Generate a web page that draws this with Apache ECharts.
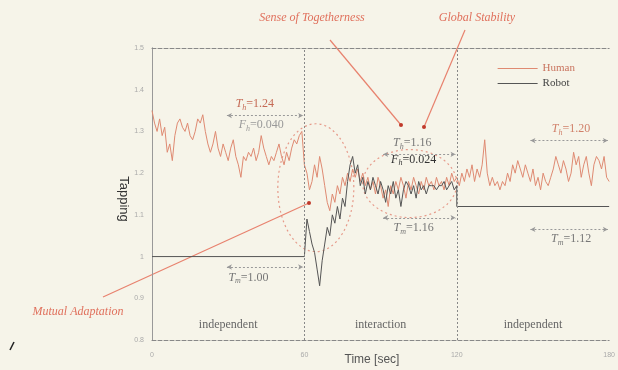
<!DOCTYPE html>
<html><head><meta charset="utf-8">
<script src="https://cdn.jsdelivr.net/npm/echarts@6/dist/echarts.min.js"></script>
<style>html,body{margin:0;padding:0;background:#f6f4e9;}#c{width:618px;height:370px;}</style>
</head><body><div id="c"></div>
<script>
// Human tapping interval, one value per second, t = 0..180
const humanValues = [
1.35,1.32,1.30,1.33,1.29,1.31,1.25,1.27,1.23,1.29,1.32,1.33,1.31,1.30,1.32,1.29,1.28,1.30,1.33,1.32,
1.34,1.30,1.27,1.25,1.27,1.30,1.26,1.24,1.27,1.25,1.23,1.26,1.28,1.24,1.22,1.19,1.24,1.23,1.25,1.24,
1.26,1.23,1.25,1.29,1.26,1.24,1.22,1.24,1.23,1.25,1.27,1.24,1.22,1.25,1.23,1.26,1.28,1.27,1.29,1.30,
1.22,1.20,1.16,1.18,1.22,1.19,1.24,1.21,1.17,1.13,1.11,1.15,1.13,1.17,1.15,1.19,1.17,1.20,1.18,1.21,
1.19,1.21,1.18,1.20,1.17,1.19,1.16,1.18,1.15,1.19,1.17,1.14,1.16,1.12,1.17,1.15,1.18,1.16,1.19,1.17,
1.14,1.18,1.16,1.19,1.17,1.15,1.18,1.16,1.19,1.17,1.18,1.16,1.19,1.17,1.18,1.16,1.19,1.17,1.20,1.18,
1.19,1.17,1.20,1.18,1.21,1.19,1.22,1.18,1.21,1.19,1.22,1.28,1.20,1.17,1.19,1.17,1.18,1.16,1.18,1.17,
1.20,1.18,1.22,1.20,1.23,1.21,1.19,1.22,1.20,1.18,1.21,1.17,1.19,1.16,1.20,1.18,1.17,1.19,1.21,1.24,
1.22,1.20,1.23,1.21,1.18,1.20,1.25,1.22,1.24,1.19,1.22,1.24,1.20,1.17,1.22,1.24,1.23,1.21,1.24,1.19,
1.18];
// Robot interval (time, value)
const robotTimes  = [0,60,61,62,63,64,65,66,67,68,69,70,71,72,73,74,75,76,77,78,79,80,81,82,83,84,85,86,87,88,89,90,
 91,92,93,94,95,96,97,98,99,100,101,102,103,104,105,106,107,108,109,110,111,112,113,114,115,116,117,118,119,120,120,180];
const robotValues = [1.00,1.00,1.09,1.06,1.03,1.01,0.97,0.93,0.99,1.03,1.07,1.05,1.10,1.08,1.12,1.09,1.14,1.12,1.18,1.22,1.24,1.20,1.22,1.17,1.19,1.15,1.18,1.16,1.19,1.17,1.15,1.18,
 1.16,1.13,1.17,1.15,1.18,1.14,1.16,1.12,1.16,1.18,1.17,1.15,1.17,1.14,1.18,1.16,1.17,1.15,1.17,1.17,1.17,1.16,1.17,1.17,1.18,1.16,1.17,1.18,1.16,1.17,1.12,1.12];
const xTicks = [0,60,120,180];
const yTicks = [0.8,0.9,1.0,1.1,1.2,1.3,1.4,1.5];
const phaseLabels = ['independent','interaction','independent'];

const humanColor = '#df8a72', robotColor = '#555';
const serif = '"Liberation Serif","DejaVu Serif",serif';
const chart = echarts.init(document.getElementById('c'));
const fmt = v => { const s = (+v).toFixed(1); return s.endsWith('.0') ? s.slice(0,-2) : s; };

chart.setOption({
  backgroundColor: '#f6f4e9',
  animation: false,
  grid: {left: 152, right: 6, top: 48, bottom: 30},
  legend: {
    right: 38, top: 58, orient: 'vertical', itemGap: 4, itemWidth: 40, itemHeight: 1,
    icon: 'rect', textStyle: {fontFamily: serif, fontSize: 11},
    data: [{name: 'Human', textStyle: {color: '#c9735e'}}, {name: 'Robot', textStyle: {color: '#444'}}]
  },
  xAxis: [{
    type: 'value', min: 0, max: 180, interval: 60,
    axisLine: {lineStyle: {color: '#888', type: 'dashed'}},
    axisTick: {show: false}, splitLine: {show: false},
    axisLabel: {fontSize: 7, color: '#aaa', margin: 12, formatter: v => xTicks.includes(v) ? String(v) : ''}
  }, {
    type: 'value', min: 0, max: 180, position: 'top',
    axisLine: {show: true, lineStyle: {color: '#888', type: 'dashed'}},
    axisTick: {show: false}, axisLabel: {show: false}, splitLine: {show: false}
  }],
  yAxis: [{
    type: 'value', min: 0.8, max: 1.5, interval: 0.1,
    axisLine: {show: true, lineStyle: {color: '#999'}},
    axisTick: {show: false}, splitLine: {show: false},
    axisLabel: {fontSize: 7, color: '#aaa', margin: 8, formatter: v => fmt(v)}
  }, {
    type: 'value', min: 0.8, max: 1.5, position: 'right',
    axisLine: {show: true, lineStyle: {color: '#999', type: 'dashed'}},
    axisTick: {show: false}, axisLabel: {show: false}, splitLine: {show: false}
  }],
  series: [{
    name: 'Human', type: 'line', showSymbol: false,
    data: humanValues.map((v, i) => [i, v]),
    lineStyle: {color: humanColor, width: 1}, itemStyle: {color: humanColor},
    markLine: {
      silent: true, symbol: 'none', label: {show: false},
      lineStyle: {color: '#888', type: [2, 2], width: 1},
      data: [[{coord: [60, 0.8]}, {coord: [60, 1.5]}], [{coord: [120, 0.8]}, {coord: [120, 1.5]}]]
    }
  }, {
    name: 'Robot', type: 'line', showSymbol: false,
    data: robotTimes.map((t, i) => [t, robotValues[i]]),
    lineStyle: {color: robotColor, width: 1}, itemStyle: {color: robotColor},
    markLine: {
      silent: true, symbol: ['arrow', 'arrow'], symbolSize: [4, 5], label: {show: false},
      lineStyle: {color: '#999', type: [2, 2], width: 1},
      data: [
        [{coord: [29.5, 1.338]}, {coord: [59.5, 1.338]}],
        [{coord: [29.5, 0.975]}, {coord: [59.5, 0.975]}],
        [{coord: [91, 1.245]}, {coord: [119.5, 1.245]}],
        [{coord: [91, 1.093]}, {coord: [119.5, 1.093]}],
        [{coord: [149, 1.278]}, {coord: [179.5, 1.278]}],
        [{coord: [149, 1.065]}, {coord: [179.5, 1.065]}]
      ]
    }
  }]
});

function P(t, v) { return chart.convertToPixel({xAxisIndex: 0, yAxisIndex: 0}, [t, v]); }
function sub(x, y, main, s, rest, color) {
  return {type: 'text', x: x, y: y, style: {
    text: '{i|' + main + '}{s|' + s + '}{n|' + rest + '}', align: 'center', verticalAlign: 'middle',
    rich: {
      i: {fontFamily: serif, fontStyle: 'italic', fontSize: 12, fill: color, height: 14},
      s: {fontFamily: serif, fontStyle: 'italic', fontSize: 8, fill: color, height: 14, padding: [7, 0, 0, 0]},
      n: {fontFamily: serif, fontSize: 12, fill: color, height: 14}
    }}};
}
const red = '#e0705c', gray = '#777';
const g = [];
// phase labels
[30, 90, 150].forEach((t, i) => {
  const p = P(t, 0.837);
  g.push({type: 'text', x: p[0], y: p[1], style: {text: phaseLabels[i], align: 'center', verticalAlign: 'middle',
    fontFamily: serif, fontSize: 12, fill: '#666'}});
});
// T annotations
let p;
p = P(40.5, 1.365); g.push(sub(p[0], p[1], 'T', 'h', '=1.24', '#c56a55'));
p = P(43, 1.315); g.push(sub(p[0], p[1], 'F', 'h', '=0.040', '#999'));
p = P(38, 0.950); g.push(sub(p[0], p[1], 'T', 'm', '=1.00', gray));
p = P(102.5, 1.272); g.push(sub(p[0], p[1], 'T', 'h', '=1.16', gray));
p = P(103, 1.232); g.push(sub(p[0], p[1], 'F', 'h', '=0.024', '#333'));
p = P(103, 1.068); g.push(sub(p[0], p[1], 'T', 'm', '=1.16', gray));
p = P(165, 1.305); g.push(sub(p[0], p[1], 'T', 'h', '=1.20', '#d0806a'));
p = P(165, 1.042); g.push(sub(p[0], p[1], 'T', 'm', '=1.12', gray));
// ellipses
let c1 = P(64.5, 1.165), c2 = P(101.5, 1.175);
g.push({type: 'ellipse', shape: {cx: c1[0], cy: c1[1], rx: 38, ry: 64}, style: {fill: 'none', stroke: '#e69a8a', lineWidth: 1.2, lineDash: [2, 3]}});
g.push({type: 'ellipse', shape: {cx: c2[0], cy: c2[1], rx: 47, ry: 34}, style: {fill: 'none', stroke: '#e69a8a', lineWidth: 1.2, lineDash: [2, 3]}});
// red callouts
const callStyle = {stroke: '#e8826e', lineWidth: 1.2};
g.push({type: 'line', shape: {x1: 330, y1: 40, x2: 401, y2: 125}, style: callStyle});
g.push({type: 'line', shape: {x1: 465, y1: 30, x2: 424, y2: 127}, style: callStyle});
g.push({type: 'line', shape: {x1: 103, y1: 297, x2: 309, y2: 203}, style: callStyle});
[[401, 125], [424, 127], [309, 203]].forEach(q => g.push({type: 'circle', shape: {cx: q[0], cy: q[1], r: 2}, style: {fill: '#c0392b'}}));
const callText = {fontFamily: serif, fontStyle: 'italic', fontSize: 12, fill: '#e0705c', align: 'center', verticalAlign: 'middle'};
g.push({type: 'text', x: 312, y: 18, style: Object.assign({text: 'Sense of Togetherness'}, callText)});
g.push({type: 'text', x: 477, y: 18, style: Object.assign({text: 'Global Stability'}, callText)});
g.push({type: 'text', x: 78, y: 312, style: Object.assign({text: 'Mutual Adaptation'}, callText)});
// axis titles
g.push({type: 'text', x: 372, y: 360, style: {text: 'Time [sec]', fontFamily: '"Liberation Sans",Arial,sans-serif', fontSize: 12, fill: '#555', align: 'center', verticalAlign: 'middle'}});
g.push({type: 'text', x: 124, y: 199, rotation: -Math.PI / 2, style: {text: 'Tapping', fontFamily: '"Liberation Sans",Arial,sans-serif', fontSize: 13, fill: '#333', align: 'center', verticalAlign: 'middle'}});
g.push({type: 'line', shape: {x1: 10, y1: 350, x2: 14, y2: 342}, style: {stroke: '#222', lineWidth: 1.5}});
chart.setOption({graphic: g});
</script></body></html>
